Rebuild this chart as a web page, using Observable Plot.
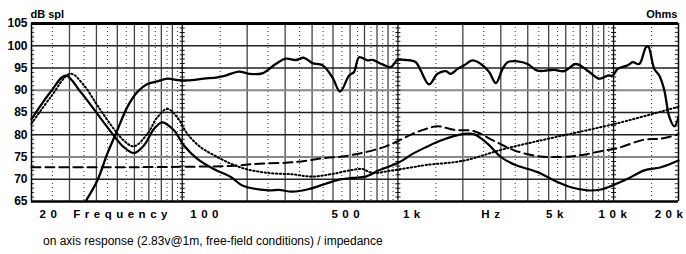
<!DOCTYPE html>
<html><head><meta charset="utf-8">
<script src="https://cdn.jsdelivr.net/npm/d3@7"></script>
<script src="https://cdn.jsdelivr.net/npm/@observablehq/plot@0.6"></script>
<style>
body{margin:0;background:#fff;}
#chart{height:225px;}
#cap{font-family:"Liberation Sans",Arial,sans-serif;font-size:12px;padding-left:43px;height:29px;line-height:16px;padding-top:8px;box-sizing:border-box;color:#000;}
</style></head><body>
<div id="chart"></div>
<div id="cap">on axis response (2.83v@1m, free-field conditions) / impedance</div>
<script>
// [frequency Hz, dB]
const splResponse = [[35.6,65],[40.4,69.7],[44.9,75.7],[50,81],[55.6,86.2],[61.9,89.6],[68.9,91.4],[76.6,92],[85.3,92.6],[94.9,92.3],[105.6,92.2],[126,92.6],[145.5,92.9],[159,93.3],[183,94.2],[204,93.7],[235,93.8],[271,95.9],[302,97.1],[336,96.8],[367,97.3],[401,96.1],[447,95.6],[497,92.9],[539,89.7],[594,93.3],[626,94.1],[661,97.4],[723,96.7],[762,96.8],[848,95.8],[927,95.2],[995,96.8],[1088,96.8],[1211,96.3],[1277,94.4],[1395,91.3],[1526,93.7],[1668,94.3],[1759,93.7],[1890,94.8],[2028,95.6],[2218,96.7],[2424,95.9],[2650,94.1],[2846,91.6],[3057,94.8],[3226,96.3],[3588,96.5],[3993,95.9],[4444,94.4],[5306,94.6],[5904,94.3],[6690,95.9],[7580,94.4],[8580,92.6],[9387,93.3],[9903,93.3],[10446,94.8],[11628,95.6],[12264,96.3],[13156,95.9],[14134,99.7],[14488,99.8],[15444,94.8],[16290,93.3],[17188,90],[18132,84],[19122,81.9],[20000,84]];
const impedanceSolid = [[20,83.5],[24.5,89.6],[28.8,93.3],[33.8,89.6],[40.4,84.7],[48.2,79.8],[53.6,77.2],[59.7,75.9],[66.4,77.6],[73.9,81.3],[80.8,82.8],[91.5,81],[101.8,77.6],[117.5,74.6],[140,72.3],[168,70.5],[190,68.6],[252,67.5],[281,67.6],[324,67.2],[387,67.8],[463,69],[533,69.9],[615,70.3],[709,70.6],[818,72],[1013,73.8],[1169,75.7],[1347,77.2],[1581,78.7],[2028,80.2],[2257,80.1],[2604,78],[3002,75],[3460,73.3],[4444,71.6],[5306,69.7],[6342,68.2],[7580,67.5],[8738,67.7],[10446,69.1],[11628,70.1],[13878,72],[16592,72.7],[20000,74.2]];
const impedanceDotted = [[20,82.5],[24.5,88.4],[30.3,93.7],[35,91.1],[40.4,86.6],[48.2,81.3],[53.6,78.7],[59.7,77.4],[68.9,80.2],[76.6,83.9],[85.3,85.8],[94.9,83.9],[105.6,80.2],[121.7,77.2],[145.5,75],[168,73.5],[197,72.3],[252,71.4],[324,71.1],[401,70.6],[497,71.2],[615,72.1],[685,72.3],[762,71.4],[944,72],[1169,72.7],[1347,73.2],[2028,74.2],[3110,76.8],[5306,79.4],[10446,82.6],[20000,86.3]];
const impedanceDashed = [[20,72.7],[50,72.7],[100,72.8],[168,73],[227,73.5],[324,73.8],[463,74.8],[553,75.1],[709,76.1],[879,77.4],[1013,78.7],[1169,80.2],[1347,81.3],[1526,81.9],[1823,81.1],[2257,80.8],[2795,78.6],[3460,76.5],[4444,75.2],[5306,75],[6812,75.3],[8738,76.3],[10446,77],[13878,78.9],[16592,79.1],[20000,80.1]];

const yTicks = [65,70,75,80,85,90,95,100,105];
const xLabelText = ["20","Frequency","100","500","1k","Hz","5k","10k","20k"];
const xLabelPos = [24.5,52.9,129.8,585.6,1185,2757,5461,10148,18462];
const gridSolid = [30,40,50,60,70,80,90,200,300,400,500,600,700,800,900,2000,3000,4000,5000,6000,7000,8000,9000];
const gridDotted = [25,35,45,55,65,75,85,95,150,250,350,450,550,650,750,850,950,1500,2500,3500,4500,5500,6500,7500,8500,9500,15000];
const gridDecade = [100,1000,10000];
const gridH_dark = [70,80,85,95,100];
const gridH_gray = [75,90];
const minorDb = d3.range(66,105);

const rows = a => a.map(([f,v]) => ({f,v}));
const labels = xLabelText.map((t,i) => ({t, f: xLabelPos[i]}));

const plot = Plot.plot({
  width: 686, height: 225,
  marginLeft: 31, marginRight: 8, marginTop: 23, marginBottom: 24,
  style: {fontFamily: "Liberation Sans, Arial, sans-serif", background: "#fff", color: "#000", overflow: "visible"},
  x: {type: "log", domain: [20,20000], axis: null},
  y: {domain: [65,105], axis: null},
  marks: [
    Plot.ruleX(gridDotted, {stroke: "#333", strokeWidth: 1, strokeDasharray: "1,3"}),
    Plot.ruleX(gridSolid, {stroke: "#444", strokeWidth: 1.3}),
    Plot.ruleY(gridH_dark, {stroke: "#222", strokeWidth: 1.3}),
    Plot.ruleY(gridH_gray, {stroke: "#888", strokeWidth: 2}),
    Plot.ruleX(gridDecade, {stroke: "#111", strokeWidth: 1.3}),
    Plot.ruleX(gridDecade, {stroke: "#111", strokeWidth: 5, strokeDasharray: "1,3.45"}),
    Plot.ruleY(minorDb, {x1: 20, x2: 20.7, stroke: "#333", strokeWidth: 1}),
    Plot.ruleY(minorDb, {x1: 19330, x2: 20000, stroke: "#333", strokeWidth: 1}),
    Plot.line(rows(impedanceDashed), {x: "f", y: "v", curve: "catmull-rom", stroke: "#000", strokeWidth: 2, strokeDasharray: "9,5"}),
    Plot.line(rows(impedanceDotted), {x: "f", y: "v", curve: "catmull-rom", stroke: "#000", strokeWidth: 2, strokeDasharray: "1.4,2.4"}),
    Plot.line(rows(impedanceSolid), {x: "f", y: "v", curve: "catmull-rom", stroke: "#000", strokeWidth: 2.2}),
    Plot.line(rows(splResponse), {x: "f", y: "v", curve: "catmull-rom", stroke: "#000", strokeWidth: 2.3, clip: true}),
    Plot.ruleX([20,20000], {stroke: "#000", strokeWidth: 1.5}),
    Plot.ruleY([105], {stroke: "#000", strokeWidth: 3}),
    Plot.ruleY([65], {stroke: "#000", strokeWidth: 2.5}),
    Plot.text(yTicks, {x: 20, y: d => d, dx: -4, textAnchor: "end", fontSize: 12, fontWeight: "bold"}),
    Plot.text(labels, {x: "f", text: "t", frameAnchor: "bottom", lineAnchor: "bottom", dy: 16, fontSize: 11.5, fontWeight: "bold"}),
    Plot.text(["dB spl"], {frameAnchor: "top-left", textAnchor: "start", lineAnchor: "bottom", dy: -6, dx: -1, fontSize: 11, fontWeight: "bold"}),
    Plot.text(["Ohms"], {frameAnchor: "top-right", textAnchor: "end", lineAnchor: "bottom", dy: -6, dx: -1, fontSize: 11, fontWeight: "bold"})
  ]
});
document.getElementById("chart").appendChild(plot);
const freqText = [...plot.querySelectorAll("text")].find(t => t.textContent === "Frequency");
if (freqText) freqText.parentNode.querySelectorAll("text").forEach(t => { t.style.letterSpacing = "4.5px"; });
</script>
</body></html>
